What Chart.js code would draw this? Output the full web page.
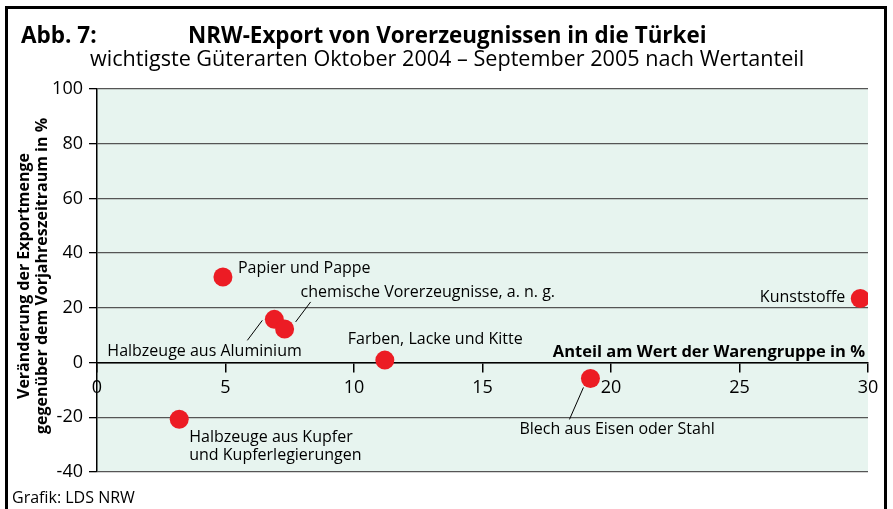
<!DOCTYPE html>
<html lang="de">
<head>
<meta charset="utf-8">
<title>NRW-Export von Vorerzeugnissen in die Türkei</title>
<script src="https://cdn.jsdelivr.net/npm/chart.js@4/dist/chart.umd.min.js"></script>
<style>
  html, body { margin: 0; padding: 0; background: #fff; }
  #wrap { width: 893px; height: 509px; position: relative; }
</style>
</head>
<body>
<div id="wrap"><canvas id="chart" width="893" height="509"></canvas></div>
<script>
// Daten
const categories = [
    'Papier und Pappe',
    'Halbzeuge aus Aluminium',
    'chemische Vorerzeugnisse, a. n. g.',
    'Farben, Lacke und Kitte',
    'Blech aus Eisen oder Stahl',
    'Kunststoffe',
    'Halbzeuge aus Kupfer\nund Kupferlegierungen'
];
const shareValues = [4.9, 6.9, 7.3, 11.2, 19.2, 29.7, 3.2];     // Anteil am Wert in %
const changeValues = [31.3, 15.8, 12.3, 0.9, -5.8, 23.4, -20.7]; // Veränderung in %
const xTicks = [0, 5, 10, 15, 20, 25, 30];
const yTicks = [-40, -20, 0, 20, 40, 60, 80, 100];

// Beschriftung: Versatz zum Punkt (Pixel) und Hinweislinien
const labelPlacement = [
    { dx: 15, dy: -9, align: 'left' },
    { dx: -167, dy: 32, align: 'left', leader: [-12, 1, -27, 21] },
    { dx: 16, dy: -36, align: 'left', leader: [11, -7, 26, -27] },
    { dx: -37, dy: -21, align: 'left' },
    { dx: -71, dy: 51, align: 'left', leader: [-7, 9, -21, 41] },
    { dx: -15, dy: -1, align: 'right' },
    { dx: 10, dy: 18, align: 'left' }
];

const FONT = '"Open Sans", "DejaVu Sans", sans-serif';

// Hintergrund der Zeichenfläche + Rahmen + Texte
const decorPlugin = {
    id: 'decor',
    beforeDraw(chart) {
        const { ctx, chartArea: a } = chart;
        ctx.save();
        ctx.fillStyle = '#fff';
        ctx.fillRect(0, 0, chart.width, chart.height);
        ctx.fillStyle = '#e7f4ef';
        ctx.fillRect(a.left, a.top, a.right - a.left, a.bottom - a.top);
        ctx.restore();
    },
    afterDraw(chart) {
        const { ctx } = chart;
        ctx.save();
        // Rahmen
        ctx.strokeStyle = '#000';
        ctx.lineWidth = 3;
        ctx.beginPath();
        ctx.moveTo(6.5, 530);
        ctx.lineTo(6.5, 7.5);
        ctx.lineTo(885.5, 7.5);
        ctx.lineTo(885.5, 530);
        ctx.stroke();

        ctx.fillStyle = '#000';
        ctx.textBaseline = 'middle';
        ctx.textAlign = 'left';
        ctx.font = 'bold 22.5px ' + FONT;
        ctx.fillText('Abb. 7:', 21, 37);
        ctx.font = 'bold 22.4px ' + FONT;
        ctx.fillText('NRW-Export von Vorerzeugnissen in die Türkei', 188, 37);
        ctx.font = '21.6px ' + FONT;
        ctx.fillText('wichtigste Güterarten Oktober 2004 – September 2005 nach Wertanteil', 90, 60);

        ctx.font = '16px ' + FONT;
        ctx.fillText('Grafik: LDS NRW', 12, 498);

        // Achsentitel
        ctx.font = 'bold 16.5px ' + FONT;
        ctx.textAlign = 'right';
        ctx.fillText('Anteil am Wert der Warengruppe in %', 865, 352);
        ctx.font = 'bold 16px ' + FONT;
        ctx.save();
        ctx.translate(24, 276);
        ctx.rotate(-Math.PI / 2);
        ctx.textAlign = 'center';
        ctx.fillText('Veränderung der Exportmenge', 0, 0);
        ctx.fillText('gegenüber dem Vorjahreszeitraum in %', 0, 18);
        ctx.restore();

        // Punktbeschriftungen
        const meta = chart.getDatasetMeta(0);
        ctx.font = '16px ' + FONT;
        ctx.strokeStyle = '#000';
        ctx.lineWidth = 1;
        meta.data.forEach((pt, i) => {
            const p = labelPlacement[i];
            ctx.textAlign = p.align;
            categories[i].split('\n').forEach((line, j) => {
                ctx.fillText(line, pt.x + p.dx, pt.y + p.dy + j * 18);
            });
            if (p.leader) {
                ctx.beginPath();
                ctx.moveTo(pt.x + p.leader[0], pt.y + p.leader[1]);
                ctx.lineTo(pt.x + p.leader[2], pt.y + p.leader[3]);
                ctx.stroke();
            }
        });
        ctx.restore();
    }
};

new Chart(document.getElementById('chart'), {
    type: 'scatter',
    data: {
        datasets: [{
            data: shareValues.map((x, i) => ({ x: x, y: changeValues[i] })),
            backgroundColor: '#ec1c24',
            borderWidth: 0,
            pointRadius: 9.5,
            pointHoverRadius: 9.5
        }]
    },
    options: {
        responsive: false,
        animation: false,
        layout: { padding: { left: 0, top: 89, right: 25, bottom: 37 } },
        plugins: {
            legend: { display: false },
            tooltip: { enabled: false },
            title: { display: false }
        },
        scales: {
            x: {
                type: 'linear',
                position: { y: 0 },
                min: 0,
                max: 30,
                afterBuildTicks: (scale) => { scale.ticks = xTicks.map(v => ({ value: v })); },
                grid: { display: true, drawOnChartArea: false, drawTicks: true, tickLength: 9, color: '#000', lineWidth: 1.5 },
                border: { display: true, color: '#000', width: 1.5 },
                ticks: { color: '#000', padding: 6, font: { family: FONT, size: 18 }, maxRotation: 0 }
            },
            y: {
                type: 'linear',
                min: -40,
                max: 100,
                afterBuildTicks: (scale) => { scale.ticks = yTicks.map(v => ({ value: v })); },
                afterFit: (scale) => { scale.width = 97; },
                grid: { color: '#555', lineWidth: 1.3, tickLength: 8, tickColor: '#000' },
                border: { display: true, color: '#000', width: 1.5 },
                ticks: { color: '#000', padding: 6, font: { family: FONT, size: 18 } }
            }
        }
    },
    plugins: [decorPlugin]
});
</script>
</body>
</html>
